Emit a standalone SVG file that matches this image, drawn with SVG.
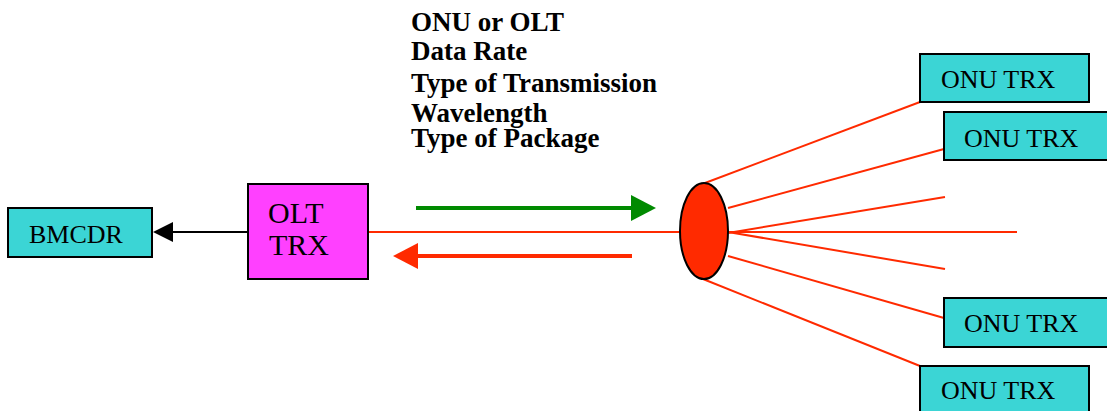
<svg xmlns="http://www.w3.org/2000/svg" width="1107" height="411" viewBox="0 0 1107 411">
<style>
.onu{fill:#3bd5d5;stroke:#000;stroke-width:2}
.t{font-family:'Liberation Serif','Times New Roman','DejaVu Serif',serif;fill:#000}
.fiber{stroke:#ff2a00;stroke-width:2;fill:none}
.lbl{font-family:'Liberation Serif','Times New Roman','DejaVu Serif',serif;font-weight:bold;font-size:27px;fill:#000}
</style>
<rect width="1107" height="411" fill="#fff"/>
<g id="connectors">
<line x1="248" y1="232" x2="172" y2="232" stroke="#000" stroke-width="2"/>
<polygon points="153,232 173,222 173,242" fill="#000"/>
<line class="fiber" x1="368" y1="232" x2="681" y2="232"/>
<line class="fiber" x1="705" y1="183" x2="920" y2="102"/>
<line class="fiber" x1="728" y1="208" x2="944" y2="149"/>
<line class="fiber" x1="728" y1="233" x2="945" y2="197"/>
<line class="fiber" x1="728" y1="232" x2="1017" y2="232"/>
<line class="fiber" x1="728" y1="232" x2="945" y2="269"/>
<line class="fiber" x1="728" y1="256" x2="944" y2="318"/>
<line class="fiber" x1="703" y1="279" x2="920" y2="366"/>
<line x1="416" y1="208" x2="633" y2="208" stroke="#008a00" stroke-width="4"/>
<polygon points="656,208 631,195 631,221" fill="#008a00"/>
<line x1="632" y1="256" x2="416" y2="256" stroke="#ff2a00" stroke-width="4"/>
<polygon points="393,256 418,243 418,269" fill="#ff2a00"/>
</g>
<g id="labels">
<text class="lbl" x="411" y="31">ONU or OLT</text>
<text class="lbl" x="411" y="60">Data Rate</text>
<text class="lbl" x="411" y="92">Type of Transmission</text>
<text class="lbl" x="411" y="122">Wavelength</text>
<text class="lbl" x="411" y="147">Type of Package</text>
</g>
<g id="bmcdr">
<rect class="onu" x="8" y="208" width="144" height="49"/>
<text class="t" x="29" y="243" font-size="26">BMCDR</text>
</g>
<g id="olt">
<rect x="248" y="184" width="120" height="95" fill="#ff40ff" stroke="#000" stroke-width="2"/>
<text class="t" x="268" y="223" font-size="30">OLT</text>
<text class="t" x="269" y="255" font-size="30">TRX</text>
</g>
<g id="splitter">
<ellipse cx="704" cy="231" rx="24" ry="48" fill="#ff2a00" stroke="#000" stroke-width="2"/>
</g>
<g id="onu1">
<rect class="onu" x="920" y="54" width="169" height="48"/>
<text class="t" x="941" y="88" font-size="26">ONU TRX</text>
</g>
<g id="onu2">
<rect class="onu" x="944" y="112" width="170" height="48"/>
<text class="t" x="964" y="147" font-size="26">ONU TRX</text>
</g>
<g id="onu3">
<rect class="onu" x="944" y="298" width="170" height="49"/>
<text class="t" x="964" y="332" font-size="26">ONU TRX</text>
</g>
<g id="onu4">
<rect class="onu" x="920" y="366" width="169" height="50"/>
<text class="t" x="941" y="399" font-size="26">ONU TRX</text>
</g>
</svg>
